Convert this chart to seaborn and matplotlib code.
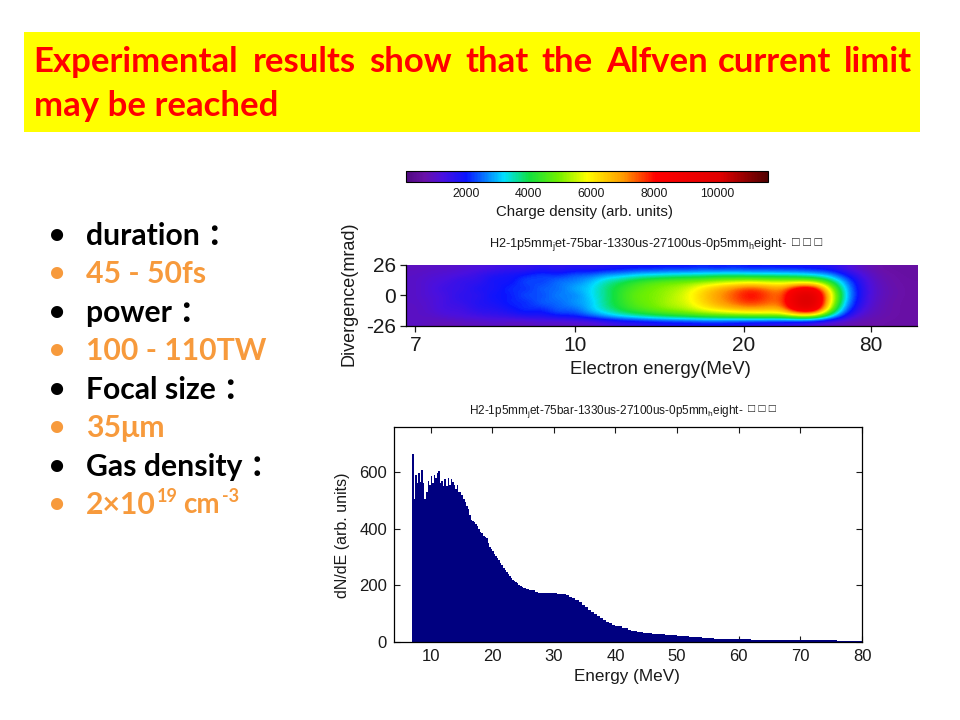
import numpy as np
import pandas as pd
import matplotlib
matplotlib.use('Agg')
import matplotlib.pyplot as plt
from matplotlib.colors import LinearSegmentedColormap
from matplotlib.patches import Rectangle
import seaborn as sns

W, H = 960, 720

# slide text
title_line1 = ['Experimental', 'results', 'show', 'that', 'the', 'Alfven', 'current', 'limit']
title_line1_x = [33, 253, 369, 465, 541, 606, 718, 844]
title_line2 = 'may be reached'
bullet_labels = ['duration ：', '45 - 50fs', 'power ：', '100 - 110TW', 'Focal size ：',
                 '35μm', 'Gas density ：', '2×10']
bullet_y = [236, 274, 313, 351, 390, 428, 467, 505]
density_parts = ['19', 'cm', '-3']
density_parts_x = [157, 183, 222]

# colorbar
cbar_min, cbar_max = 100, 11625
cbar_ticks = [2000, 4000, 6000, 8000, 10000]

# charge density, top row first
charge_rows = [
    [900,1000,1000,1100,1200,1300,1500,1400,1700,1500,1700,1600,1700,1800,1900,1900,2000,1900,2100,1900,2100,1900,2000,1900,1900,1800,1700,1300,900,700,600,600],
    [1000,1100,1200,1300,1500,1800,1900,2100,2400,2100,2500,2500,2900,3000,3300,3400,3500,3600,3600,3800,3700,3700,3600,3600,3500,3300,2900,2000,1300,800,700,600],
    [1000,1200,1300,1600,1500,2000,1800,2500,2100,2700,2600,3000,3600,4000,4400,4700,4900,5000,5200,5400,5600,5700,5600,5500,5500,5400,4300,2700,1500,900,700,650],
    [1000,1200,1500,1400,1900,1700,2300,2000,2600,2400,3000,3100,3800,4300,4700,5000,5200,5500,6200,6800,7300,7900,7400,6900,8800,9000,5600,3000,1600,950,750,650],
    [1000,1200,1300,1700,1500,2100,1900,2500,2200,2800,2500,3200,3700,4400,4900,5000,5300,5700,6400,7000,7500,8200,7700,7100,10000,10300,6200,3100,1600,950,750,650],
    [1000,1100,1400,1500,1800,1800,2200,2000,2600,2400,2900,2900,3800,4300,4800,5000,5400,5600,6300,6900,7400,7900,7500,7200,10200,10500,6000,2900,1500,900,700,650],
    [950,1100,1400,1300,1700,1700,1900,2300,2000,2600,2400,3100,3600,4200,4600,4900,5200,5400,5900,6300,6700,6900,6800,6700,9500,9800,5300,2500,1300,850,700,650],
    [1000,1000,1200,1300,1400,1500,1600,1800,1800,2100,2100,2500,3000,3400,3700,4000,4200,4400,4600,4700,4800,4900,5000,5000,5600,5600,3600,1800,1000,800,700,650],
    [1000,900,800,900,900,1000,900,900,1000,900,1000,1000,1200,1400,1500,1600,1700,1700,1800,1800,1700,1600,1500,1400,1300,1100,900,800,700,700,650,650],
]
energy_tick_pos = [0.018, 0.331, 0.661, 0.910]
energy_tick_labels = ['7', '10', '20', '80']
divergence_ticks = [26, 0, -26]

# spectrum, 0.25 MeV bins from 7 to 25
counts_fine = [665,505,590,560,598,565,608,560,505,530,570,555,585,560,590,580,595,605,
               560,570,550,575,550,580,555,575,565,555,540,555,530,530,520,505,495,480,
               470,450,431,428,425,418,410,400,390,385,375,370,367,350,335,328,320,312,
               305,298,290,280,272,262,255,248,240,232,225,220,215,212,207,202,198,194]
# 0.5 MeV bins from 25 to 45
counts_mid = [190,186,183,182,178,174,172,174,172,173,172,170,170,168,165,160,155,148,140,130,
              122,112,106,100,93,85,78,72,66,60,57,55,51,48,44,40,38,37,35,33]
# 1 MeV bins from 45 to 80
counts_tail = [31,29,28,25,23,22,20,18,17,15,13,12,12,10,10,9,9,8,8,7,7,7,6,6,6,6,6,6,6,6,6,5,5,5,4]
hist_xticks = [10, 20, 30, 40, 50, 60, 70, 80]
hist_yticks = [0, 200, 400, 600]

sns.set_theme(style='white')
plt.rcParams['font.family'] = ['Liberation Sans', 'DejaVu Sans']
plt.rcParams['mathtext.fontset'] = 'custom'
plt.rcParams['mathtext.sf'] = 'Liberation Sans'

SLIDE_FONT = ['Lato', 'Noto Sans CJK SC', 'DejaVu Sans']
INK = '#1a1a1a'
ORANGE = '#f79a3c'


def add_axes_px(fig, left, top, right, bottom):
    """Axes from a pixel box measured on the slide"""
    return fig.add_axes([left / W, 1 - bottom / H, (right - left) / W, (bottom - top) / H])


def put_text(fig, x, y, s, **kw):
    kw.setdefault('ha', 'center')
    kw.setdefault('va', 'center')
    kw.setdefault('color', INK)
    return fig.text(x / W, 1 - y / H, s, **kw)


fig = plt.figure(figsize=(W / 100, H / 100), dpi=100, facecolor='white')

# title banner
fig.patches.append(Rectangle((24 / W, 1 - 132 / H), 896 / W, 100 / H, transform=fig.transFigure,
                             facecolor='#ffff00', edgecolor='none'))
for word, x in zip(title_line1, title_line1_x):
    put_text(fig, x, 62, word, ha='left', color='#ff0000', fontsize=25, family=SLIDE_FONT, weight='bold')
put_text(fig, 34, 106, title_line2, ha='left', color='#ff0000', fontsize=25, family=SLIDE_FONT, weight='bold')

# bullet list
for i, (label, y) in enumerate(zip(bullet_labels, bullet_y)):
    colour = 'black' if i % 2 == 0 else ORANGE
    put_text(fig, 57, y, '•', color=colour, fontsize=20, family=SLIDE_FONT, weight='bold')
    put_text(fig, 86, y, label, ha='left', color=colour, fontsize=21.7, family=SLIDE_FONT, weight='bold')

# the density line has raised exponents
put_text(fig, density_parts_x[0], 497, density_parts[0], ha='left', color=ORANGE, fontsize=13, family=SLIDE_FONT, weight='bold')
put_text(fig, density_parts_x[1], 505, density_parts[1], ha='left', color=ORANGE, fontsize=20, family=SLIDE_FONT, weight='bold')
put_text(fig, density_parts_x[2], 497, density_parts[2], ha='left', color=ORANGE, fontsize=13, family=SLIDE_FONT, weight='bold')

cmap = LinearSegmentedColormap.from_list('charge', [
    (0.00, '#500a80'), (0.05, '#6a10a8'), (0.10, '#4a10e0'), (0.165, '#0a14ff'), (0.27, '#00e0ff'),
    (0.34, '#10e040'), (0.42, '#70f000'), (0.50, '#ffff00'), (0.60, '#ff9a00'),
    (0.69, '#ff0000'), (0.87, '#e00000'), (1.00, '#500000')])

# charge density image
ax_img = add_axes_px(fig, 406, 265, 917, 326)
im = ax_img.imshow(np.array(charge_rows), cmap=cmap, vmin=cbar_min, vmax=cbar_max, aspect='auto',
                   interpolation='bicubic', extent=[0, 1, -26, 26])
ax_img.set_xticks(energy_tick_pos, energy_tick_labels)
ax_img.set_yticks(divergence_ticks, ['26', '0', '-26'])
ax_img.tick_params(direction='out', length=4.3, width=0.9, labelsize=15, colors=INK, pad=3, bottom=True, left=True)
sns.despine(ax=ax_img, top=True, right=True)
for side in ['left', 'bottom']:
    ax_img.spines[side].set_color('black')
    ax_img.spines[side].set_linewidth(0.9)
put_text(fig, 660, 370, 'Electron energy(MeV)', fontsize=13.4)
put_text(fig, 349, 294, 'Divergence(mrad)', fontsize=13, rotation=90)
put_text(fig, 638, 245, r'H2-1p5mm$_{\mathsf{j}}$et-75bar-1330us-27100us-0p5mm$_{\mathsf{h}}$eight-', fontsize=9.2)
put_text(fig, 807, 243, '□ □ □', fontsize=9.2)

# colorbar
cax = add_axes_px(fig, 406, 171, 768, 182)
cb = fig.colorbar(im, cax=cax, orientation='horizontal', ticks=cbar_ticks)
cb.outline.set_linewidth(0.8)
cb.outline.set_edgecolor('black')
cax.tick_params(direction='in', length=3.5, width=0.8, top=True, bottom=True, labelsize=8.8, colors=INK, pad=4)
put_text(fig, 585, 212, 'Charge density (arb. units)', fontsize=10.8)

# energy spectrum
energy_left = np.concatenate([7 + 0.25 * np.arange(len(counts_fine)),
                              25 + 0.5 * np.arange(len(counts_mid)),
                              45 + 1.0 * np.arange(len(counts_tail))])
bin_edges = np.append(energy_left, 80).tolist()
spectrum = pd.DataFrame({'energy': energy_left, 'counts': counts_fine + counts_mid + counts_tail})

ax_hist = add_axes_px(fig, 394, 427, 862, 642)
sns.histplot(data=spectrum, x='energy', weights='counts', bins=bin_edges, element='step', fill=True,
             color='#000080', alpha=1, linewidth=0, ax=ax_hist)
for coll in ax_hist.collections:
    coll.set_antialiased(False)
ax_hist.set_xlim(4.06, 80)
ax_hist.set_ylim(0, 759)
ax_hist.set_xticks(hist_xticks)
ax_hist.set_yticks(hist_yticks)
ax_hist.set_xlabel('')
ax_hist.set_ylabel('')
ax_hist.tick_params(direction='in', length=4, width=0.8, top=True, right=True, bottom=True, left=True,
                    labelsize=12, colors=INK, pad=5)
for spine in ax_hist.spines.values():
    spine.set_color('black')
    spine.set_linewidth(0.9)
put_text(fig, 627, 677, 'Energy (MeV)', fontsize=12.3)
put_text(fig, 342, 535, 'dN/dE (arb. units)', fontsize=11.5, rotation=90)
put_text(fig, 606, 411, r'H2-1p5mm$_{\mathsf{j}}$et-75bar-1330us-27100us-0p5mm$_{\mathsf{h}}$eight-', fontsize=8.5)
put_text(fig, 762, 409, '□ □ □', fontsize=8.5)

fig.savefig('out.png', dpi=100)
